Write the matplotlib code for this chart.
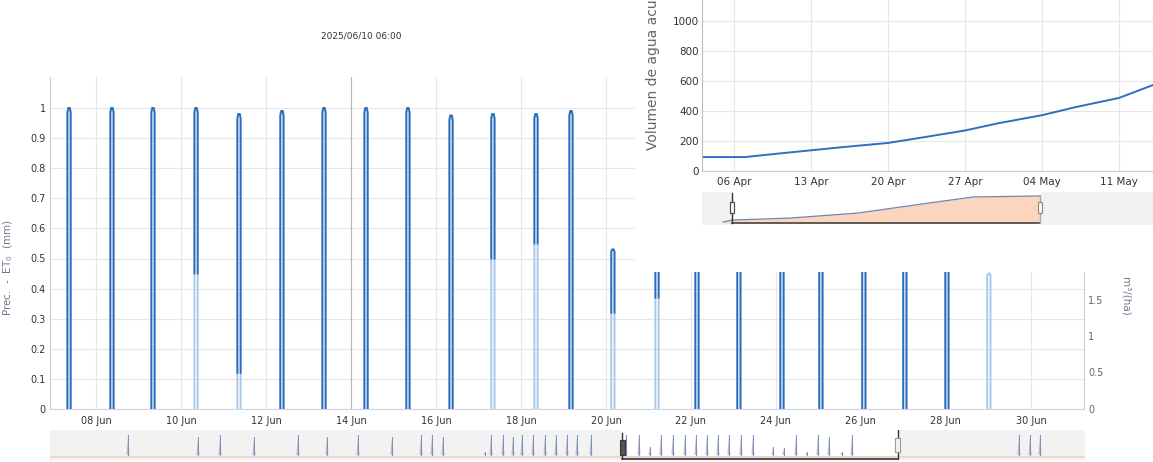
import matplotlib
matplotlib.use("Agg")
import matplotlib.pyplot as plt
import matplotlib.dates as mdates
from matplotlib.patches import Rectangle
import pandas as pd

W, H = 1153, 462
DPI = 100

# ---------------- data ----------------
# main chart: daily Prec./ET0 spikes
spike_times = ["2025-06-07 08:45", "2025-06-08 09:00", "2025-06-09 08:10", "2025-06-10 08:30",
               "2025-06-11 08:45", "2025-06-12 09:00", "2025-06-13 08:45", "2025-06-14 08:30",
               "2025-06-15 08:10", "2025-06-16 08:30", "2025-06-17 08:10", "2025-06-18 08:30",
               "2025-06-19 04:15", "2025-06-20 03:55", "2025-06-21 04:50", "2025-06-22 03:25",
               "2025-06-23 03:05", "2025-06-24 03:25", "2025-06-25 01:25", "2025-06-26 01:40",
               "2025-06-27 00:50", "2025-06-28 00:35", "2025-06-29 00:17"]
spike_heights = [1.0, 1.0, 1.0, 1.0, 0.98, 0.99, 1.0, 1.0, 1.0, 0.975, 0.98, 0.98, 0.99,
                 0.53, 1.0, 1.0, 1.0, 1.0, 1.0, 1.0, 1.0, 1.0, 0.45]
# level below which the spike is drawn in the light colour
spike_dark_from = [0, 0, 0, 0.45, 0.12, 0, 0, 0, 0, 0, 0.5, 0.55, 0,
                   0.32, 0.37, 0, 0, 0, 0, 0, 0, 0, 1.0]

main_xmin = "2025-06-06 22:00"
main_xmax = "2025-07-01 06:00"
main_xticks = pd.date_range("2025-06-08", "2025-06-30", freq="2D")
main_yticks = [0, 0.1, 0.2, 0.3, 0.4, 0.5, 0.6, 0.7, 0.8, 0.9, 1.0]
main_ytick_labels = ["0", "0.1", "0.2", "0.3", "0.4", "0.5", "0.6", "0.7", "0.8", "0.9", "1"]
right_yticks = [0, 0.5, 1, 1.5]
right_ytick_labels = ["0", "0.5", "1", "1.5"]
plot_line_date = "2025-06-14"
title_text = "2025/06/10 06:00"

# main navigator (percent of navigator width, height fraction)
nav_pos = [7.54, 14.30, 16.43, 19.71, 23.96, 26.76, 29.76, 33.04, 35.85, 36.91, 37.97, 42.03,
           42.61, 43.77, 44.73, 45.60, 46.67, 47.83, 48.89, 49.95, 50.92, 52.27, 55.65, 56.91,
           57.97, 59.03, 60.19, 61.35, 62.42, 63.48, 64.54, 65.60, 66.76, 67.92, 69.86, 70.92,
           72.08, 73.14, 74.20, 75.27, 76.52, 77.49, 93.62, 94.69, 95.65]
nav_h = [0.66, 0.6, 0.66, 0.6, 0.66, 0.6, 0.66, 0.6, 0.66, 0.66, 0.6, 0.1,
         0.66, 0.66, 0.6, 0.66, 0.66, 0.66, 0.66, 0.66, 0.66, 0.66, 0.66, 0.66,
         0.27, 0.66, 0.66, 0.66, 0.66, 0.66, 0.66, 0.66, 0.66, 0.66, 0.27, 0.24,
         0.66, 0.1, 0.66, 0.6, 0.1, 0.66, 0.66, 0.66, 0.66]
nav_sel = (55.3, 81.9)

# top-right chart: accumulated water volume
vol_dates = ["2025-04-03 02:00", "2025-04-07 00:00", "2025-04-10 00:00", "2025-04-13 00:00",
             "2025-04-16 00:00", "2025-04-20 00:00", "2025-04-23 00:00", "2025-04-27 00:00",
             "2025-04-30 00:00", "2025-05-04 00:00", "2025-05-07 00:00", "2025-05-11 00:00",
             "2025-05-14 02:00"]
vol_values = [93, 93, 116, 138, 160, 187, 222, 270, 318, 372, 425, 487, 573]
vol_xmin = "2025-04-03 02:00"
vol_xmax = "2025-05-16 00:00"
vol_xticks = pd.date_range("2025-04-06", "2025-05-11", freq="7D")
vol_yticks = [0, 200, 400, 600, 800, 1000]
vol_ylabel = "Volumen de agua acumulada (m³/ha)"

vnav_pos = [4.7, 6.7, 19.5, 34.4, 49.0, 60.1, 74.9]
vnav_val = [0.09, 0.15, 0.21, 0.36, 0.64, 0.85, 0.88]
vnav_sel = (6.7, 74.9)

# ---------------- styles ----------------
DARK = "#2b6dbb"
LIGHT = "#a9c7e8"
GRID = "#e6e6e6"
AXIS = "#ccd6eb"
TXT = "#333333"
LBL = "#6e7890"


def px_rect(x0, y0, x1, y1):
    return [x0 / W, (H - y1) / H, (x1 - x0) / W, (y1 - y0) / H]


fig = plt.figure(figsize=(W / DPI, H / DPI), dpi=DPI)

# ---------------- main chart ----------------
ax = fig.add_axes(px_rect(50, 77, 1084, 409))
ax.set_xlim(pd.Timestamp(main_xmin), pd.Timestamp(main_xmax))
ax.set_ylim(0, 332 / 301)
ax.set_xticks(main_xticks)
ax.xaxis.set_major_formatter(mdates.DateFormatter("%d %b"))
ax.set_yticks(main_yticks)
ax.set_yticklabels(main_ytick_labels)
ax.grid(True, color=GRID, lw=0.8)
ax.set_axisbelow(True)
ax.tick_params(axis="both", length=0, labelsize=7, colors=TXT)
ax.tick_params(axis="x", pad=5)
ax.tick_params(axis="y", pad=3)
for s in ["top", "right"]:
    ax.spines[s].set_visible(False)
ax.spines["left"].set_color("#cccccc")
ax.spines["bottom"].set_color(AXIS)
ax.axvline(pd.Timestamp(plot_line_date), color="#b5b5b5", lw=0.8, zorder=1)

half = pd.Timedelta(minutes=55)
for t, h, d in zip(spike_times, spike_heights, spike_dark_from):
    t = pd.Timestamp(t)
    xs = [t - half, t - half, t - half / 2, t + half / 2, t + half, t + half]
    ys = [0, h * 0.985, h, h, h * 0.985, 0]
    ax.plot(xs, ys, color=LIGHT, lw=1.35, zorder=3, solid_joinstyle="round")
    if d < h:
        ys_d = [d, h * 0.985, h, h, h * 0.985, d]
        ax.plot(xs, ys_d, color=DARK, lw=1.35, zorder=4, solid_joinstyle="round")

ax2 = ax.twinx()
ax2.set_ylim(0, 332 / 73)
ax2.set_yticks(right_yticks)
ax2.set_yticklabels(right_ytick_labels)
ax2.tick_params(axis="y", length=0, labelsize=7, colors="#666666", pad=3)
for s in ["top", "left", "bottom"]:
    ax2.spines[s].set_visible(False)
ax2.spines["right"].set_color("#cccccc")

fig.text(361 / W, (H - 36) / H, title_text, ha="center", va="center", fontsize=6.5, color=TXT)
fig.text(8 / W, (H - 268) / H, "Prec.  -  ET$_0$  (mm)", rotation=90, ha="center",
         va="center", fontsize=7.5, color=LBL)
fig.text(1125 / W, (H - 296) / H, "m³/(ha)", rotation=270, ha="center", va="center",
         fontsize=7.5, color=LBL)

# ---------------- main navigator ----------------
nax = fig.add_axes(px_rect(50, 430, 1085, 460))
nax.set_xlim(0, 100)
nax.set_ylim(0, 1)
nax.set_facecolor("#f2f2f2")
nax.set_xticks([])
nax.set_yticks([])
for s in nax.spines.values():
    s.set_visible(False)
nax.axvspan(nav_sel[0], nav_sel[1], color="white", zorder=0)
nax.plot([0, 100], [0.1, 0.1], color="#f3d6c4", lw=1.5, zorder=1)
for p, hh in zip(nav_pos, nav_h):
    nax.fill([p - 0.15, p, p + 0.15], [0.17, 0.17 + hh, 0.17], color="#b4bdd6",
             lw=0, zorder=2)
    nax.plot([p, p], [0.17, 0.17 + hh], color="#7f8fb5", lw=0.7, zorder=2)
nax.plot([nav_sel[0], nav_sel[1]], [0.03, 0.03], color="#333333", lw=1.2, zorder=3)
nax.plot([nav_sel[0], nav_sel[0]], [0.03, 0.9], color="#333333", lw=1.0, zorder=3)
nax.plot([nav_sel[1], nav_sel[1]], [0.03, 1.0], color="#333333", lw=1.0, zorder=3)
nax.add_patch(Rectangle((nav_sel[0] - 0.25, 0.17), 0.5, 0.5, fc="#555555", ec="#333333",
                        lw=0.8, zorder=4))
nax.add_patch(Rectangle((nav_sel[1] - 0.25, 0.27), 0.5, 0.46, fc="#f2f2f2", ec="#999999",
                        lw=0.8, zorder=4))

# ---------------- top-right overlay panel ----------------
ov = fig.add_axes(px_rect(635, 0, 1153, 272))
ov.set_facecolor("white")
ov.set_xticks([])
ov.set_yticks([])
for s in ov.spines.values():
    s.set_visible(False)

vax = fig.add_axes(px_rect(702, -9, 1174, 171))
vax.set_facecolor("none")
vax.set_xlim(pd.Timestamp(vol_xmin), pd.Timestamp(vol_xmax))
vax.set_ylim(0, 1200)
vax.set_xticks(vol_xticks)
vax.xaxis.set_major_formatter(mdates.DateFormatter("%d %b"))
vax.set_yticks(vol_yticks)
vax.grid(True, color=GRID, lw=0.8)
vax.set_axisbelow(True)
vax.tick_params(axis="both", length=0, labelsize=7.5, colors=TXT)
vax.tick_params(axis="x", pad=4)
vax.tick_params(axis="y", pad=2)
for s in ["top", "right"]:
    vax.spines[s].set_visible(False)
vax.spines["left"].set_color("#bbbbbb")
vax.spines["bottom"].set_color("#cccccc")
vax.plot(pd.to_datetime(vol_dates, format="ISO8601"), vol_values, color="#2f6fbf", lw=1.4,
         solid_joinstyle="round")

fig.text(653 / W, (H - 150) / H, vol_ylabel, rotation=90, ha="center", va="bottom",
         fontsize=10, color="#666666")

vnav = fig.add_axes(px_rect(702, 192, 1153, 225))
vnav.set_xlim(0, 100)
vnav.set_ylim(0, 1)
vnav.set_facecolor("#f2f2f2")
vnav.set_xticks([])
vnav.set_yticks([])
for s in vnav.spines.values():
    s.set_visible(False)
vnav.axvspan(vnav_sel[0], vnav_sel[1], color="white", zorder=0)
vnav.fill_between(vnav_pos, vnav_val, 0.06, color="#fcd5bf", lw=0, zorder=1)
vnav.plot(vnav_pos, vnav_val, color="#6d87b5", lw=0.9, zorder=2)
vnav.plot([vnav_sel[0], vnav_sel[1]], [0.06, 0.06], color="#444444", lw=1.2, zorder=3)
vnav.plot([vnav_sel[0], vnav_sel[0]], [0.06, 0.97], color="#333333", lw=1.0, zorder=3)
vnav.plot([vnav_sel[1], vnav_sel[1]], [0.06, 0.9], color="#aaaaaa", lw=1.0, zorder=3)
vnav.add_patch(Rectangle((vnav_sel[0] - 0.45, 0.36), 0.9, 0.33, fc="#f7f7f7", ec="#444444",
                         lw=0.8, zorder=4))
vnav.add_patch(Rectangle((vnav_sel[1] - 0.45, 0.36), 0.9, 0.33, fc="#f7f7f7", ec="#888888",
                         lw=0.8, zorder=4))

fig.savefig("out.png", dpi=DPI)
